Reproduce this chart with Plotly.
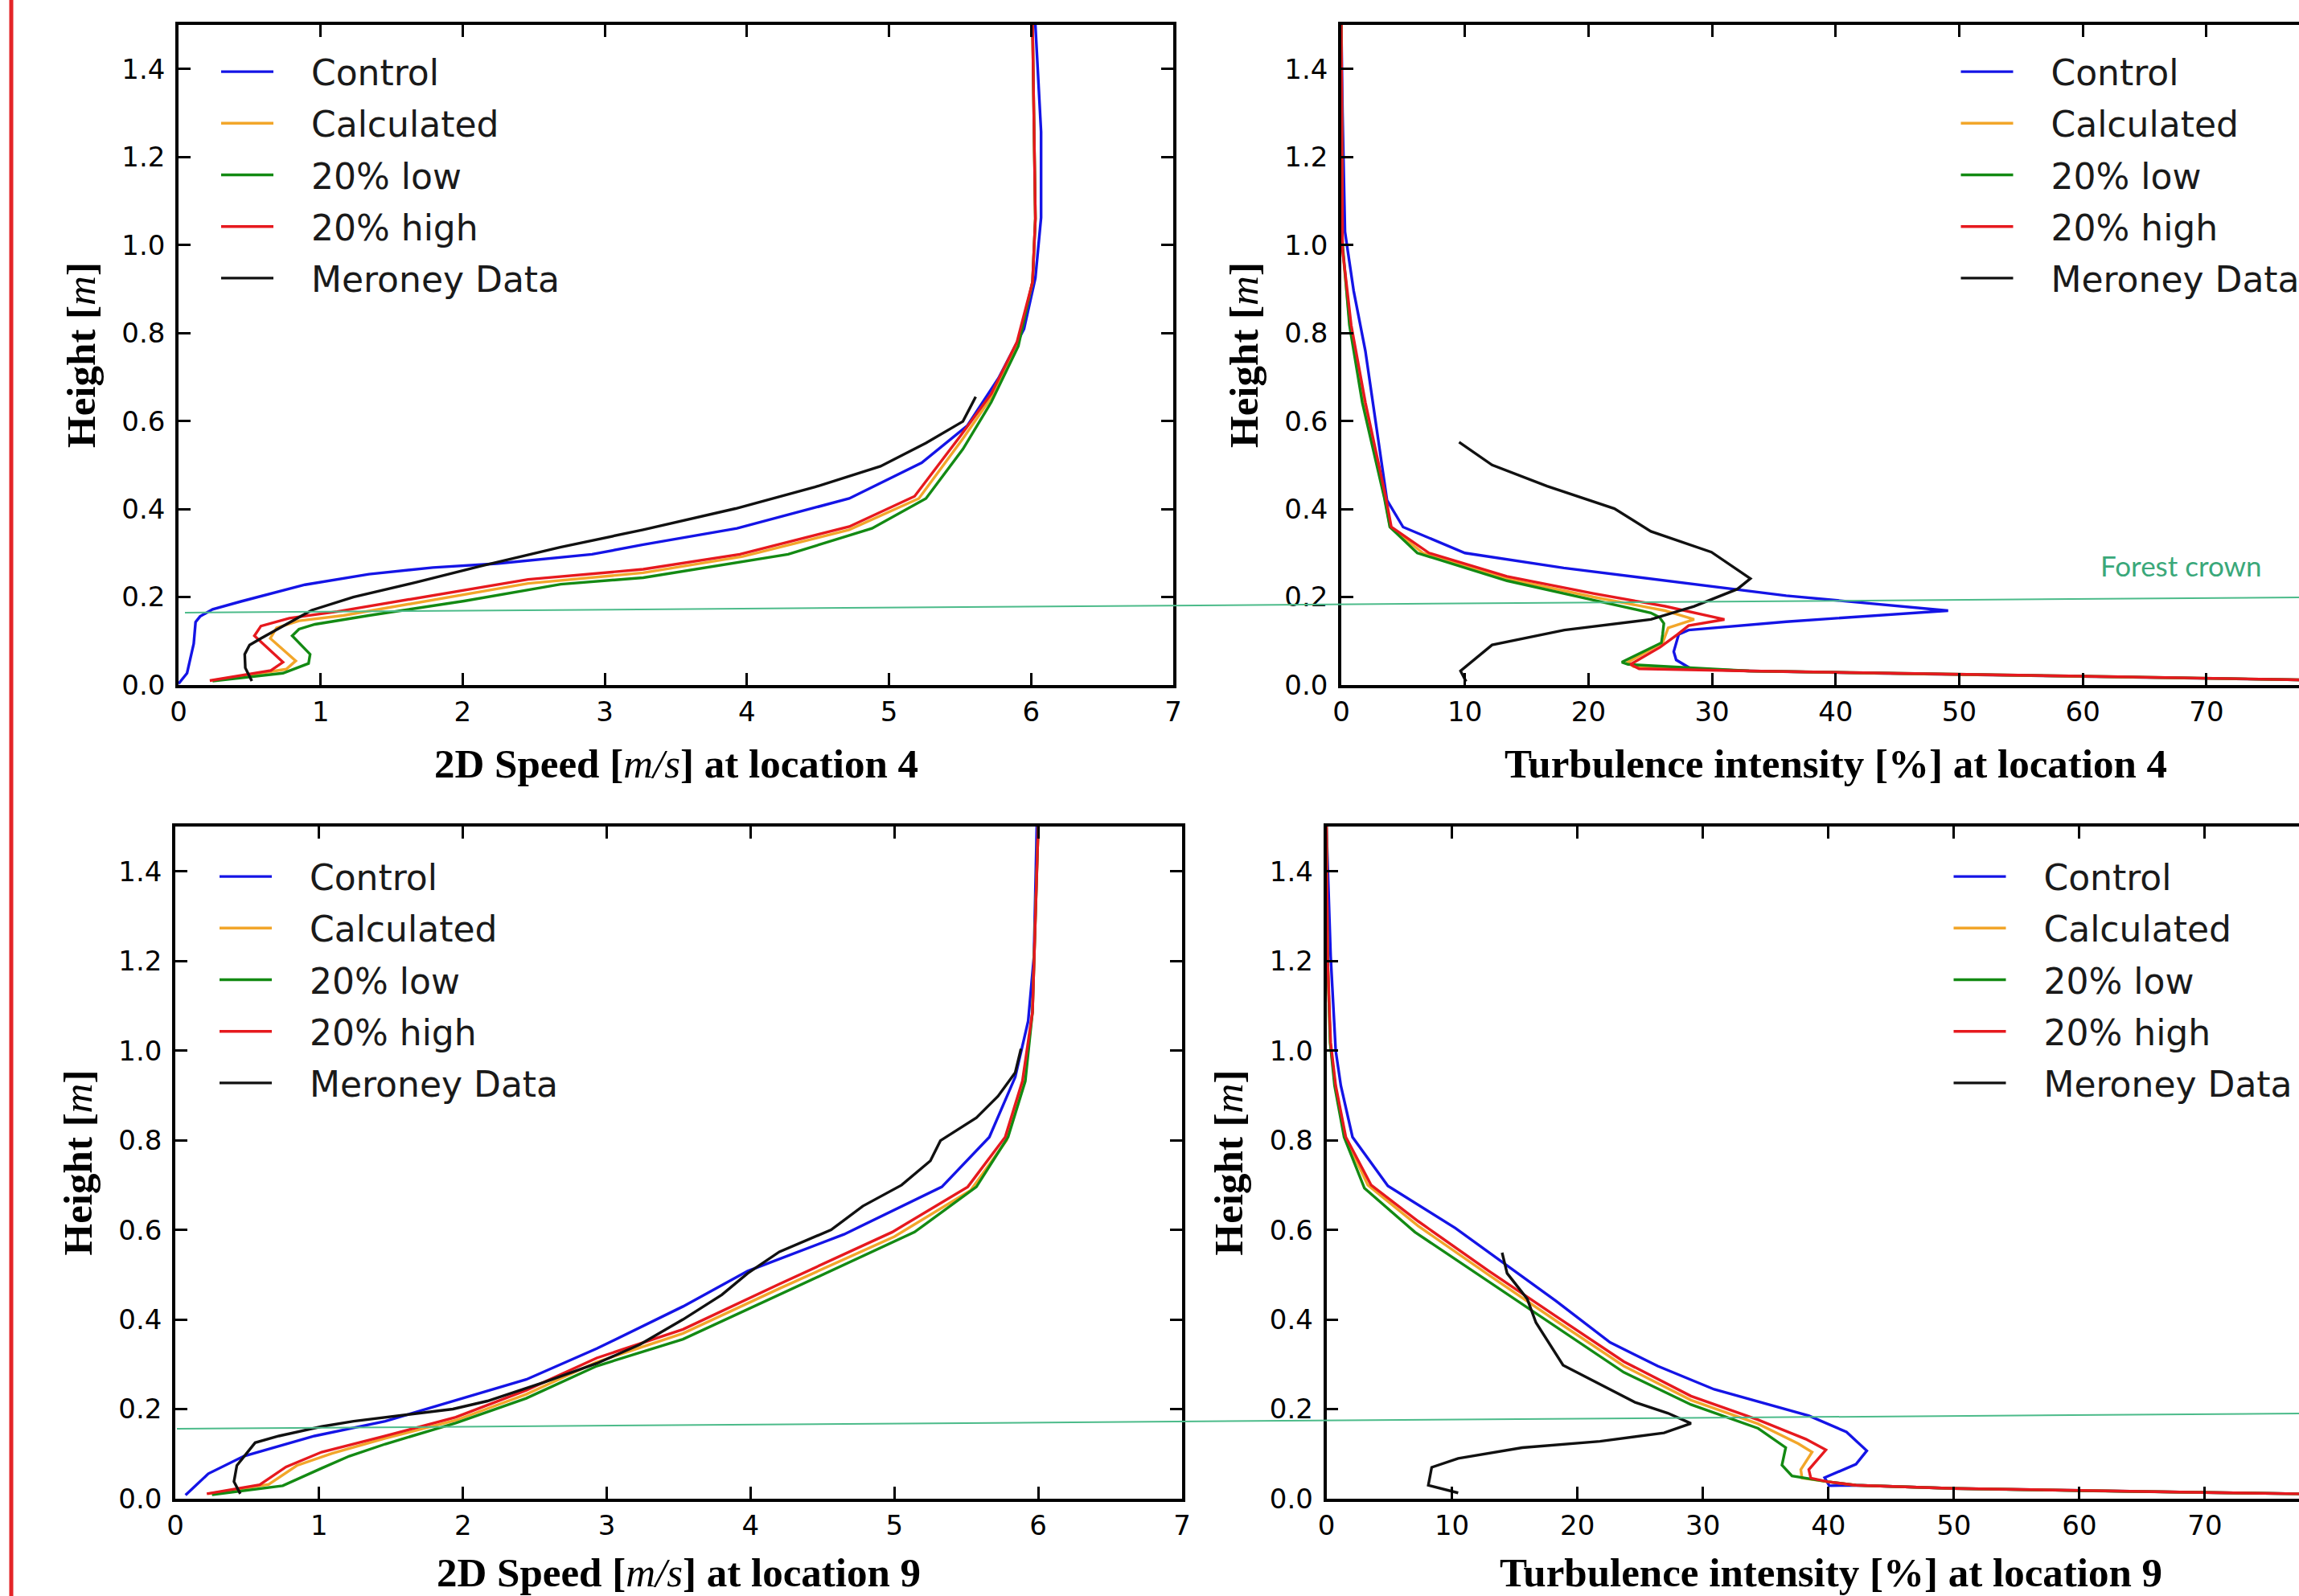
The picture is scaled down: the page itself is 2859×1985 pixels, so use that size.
import plotly.graph_objects as go

W, H = 2859, 1985

# ---------------- data ----------------
series_names = ["Control", "Calculated", "20% low", "20% high", "Meroney Data"]
series_colors = ["#1414e6", "#f2a62a", "#138a13", "#e6191e", "#111111"]

# Panel 1: 2D speed at location 4 (x = speed m/s, y = height m)
sp4_control_x = [0.0, 0.06, 0.107, 0.12, 0.152, 0.24, 0.44, 0.89, 1.34, 1.79, 2.24, 2.91, 3.27, 3.93, 4.72, 5.23, 5.55, 5.77, 5.95, 6.03, 6.07, 6.07, 6.03]
sp4_control_y = [0.003, 0.027, 0.094, 0.143, 0.156, 0.172, 0.19, 0.228, 0.252, 0.267, 0.276, 0.297, 0.319, 0.356, 0.424, 0.505, 0.589, 0.697, 0.809, 0.925, 1.062, 1.257, 1.5]
sp4_calc_x = [0.24, 0.758, 0.825, 0.646, 0.69, 0.848, 1.16, 1.79, 2.46, 3.27, 3.97, 4.72, 5.21, 5.52, 5.73, 5.91, 6.01, 6.03, 6.02, 6.01]
sp4_calc_y = [0.010, 0.036, 0.055, 0.106, 0.13, 0.146, 0.158, 0.194, 0.231, 0.255, 0.292, 0.353, 0.424, 0.560, 0.658, 0.779, 0.916, 1.06, 1.305, 1.5]
sp4_low_x = [0.24, 0.735, 0.915, 0.926, 0.80, 0.848, 0.96, 1.34, 2.01, 2.69, 3.27, 4.29, 4.88, 5.26, 5.52, 5.72, 5.91, 6.01, 6.03, 6.02, 6.01]
sp4_low_y = [0.009, 0.027, 0.049, 0.07, 0.112, 0.127, 0.138, 0.158, 0.191, 0.229, 0.244, 0.297, 0.356, 0.424, 0.536, 0.643, 0.770, 0.916, 1.06, 1.305, 1.5]
sp4_high_x = [0.22, 0.65, 0.735, 0.534, 0.58, 0.78, 1.117, 1.79, 2.46, 3.27, 3.95, 4.72, 5.18, 5.50, 5.72, 5.90, 6.01, 6.03, 6.02, 6.01]
sp4_high_y = [0.010, 0.033, 0.052, 0.112, 0.134, 0.152, 0.167, 0.203, 0.240, 0.263, 0.297, 0.360, 0.429, 0.565, 0.662, 0.779, 0.916, 1.06, 1.305, 1.5]
sp4_meroney_x = [0.516, 0.47, 0.466, 0.50, 0.58, 0.735, 0.937, 1.23, 1.68, 2.125, 2.686, 3.27, 3.92, 4.48, 4.94, 5.26, 5.52, 5.61]
sp4_meroney_y = [0.009, 0.039, 0.07, 0.091, 0.106, 0.134, 0.170, 0.200, 0.234, 0.270, 0.313, 0.353, 0.401, 0.450, 0.497, 0.550, 0.599, 0.655]

# Panel 2: turbulence intensity at location 4 (x = %, y = height m)
ti4_control_x = [0.0, 0.1, 0.3, 1.0, 1.95, 2.9, 3.7, 5.0, 10.0, 18.0, 25.0, 36.0, 49.1, 36.0, 28.1, 27.3, 26.9, 27.1, 28.3, 33.0, 45.0, 60.0, 77.5, 95.0]
ti4_control_y = [1.5, 1.3, 1.03, 0.896, 0.759, 0.574, 0.42, 0.359, 0.30, 0.266, 0.242, 0.203, 0.169, 0.144, 0.125, 0.115, 0.076, 0.057, 0.037, 0.032, 0.026, 0.020, 0.012, 0.004]
ti4_calc_x = [0.0, 0.05, 0.1, 0.7, 1.8, 3.5, 3.95, 6.6, 13.4, 20.4, 26.2, 28.55, 26.45, 26.0, 23.2, 23.65, 33.0, 45.0, 60.0, 77.5, 95.0]
ti4_calc_y = [1.5, 1.2, 0.99, 0.818, 0.642, 0.427, 0.359, 0.30, 0.242, 0.20, 0.169, 0.149, 0.130, 0.096, 0.052, 0.042, 0.032, 0.026, 0.020, 0.012, 0.004]
ti4_low_x = [0.0, 0.05, 0.08, 0.66, 1.7, 3.47, 3.93, 6.15, 13.4, 20.4, 25.05, 25.75, 26.1, 26.0, 25.9, 22.7, 23.2, 33.0, 45.0, 60.0, 77.5, 95.0]
ti4_low_y = [1.5, 1.2, 1.01, 0.818, 0.642, 0.427, 0.359, 0.30, 0.237, 0.193, 0.164, 0.154, 0.14, 0.115, 0.096, 0.052, 0.047, 0.032, 0.026, 0.020, 0.012, 0.004]
ti4_high_x = [0.0, 0.05, 0.1, 0.8, 1.95, 3.6, 4.05, 7.1, 13.4, 20.4, 26.2, 31.0, 28.1, 27.2, 25.8, 23.4, 24.1, 33.0, 45.0, 60.0, 77.5, 95.0]
ti4_high_y = [1.5, 1.2, 0.99, 0.818, 0.642, 0.427, 0.359, 0.30, 0.247, 0.208, 0.179, 0.149, 0.135, 0.115, 0.086, 0.047, 0.037, 0.032, 0.026, 0.020, 0.012, 0.004]
ti4_meroney_x = [9.53, 12.2, 16.65, 22.1, 25.05, 29.95, 33.1, 32.05, 28.55, 25.05, 18.05, 12.2, 9.65, 10.1]
ti4_meroney_y = [0.552, 0.50, 0.452, 0.401, 0.349, 0.302, 0.242, 0.218, 0.179, 0.149, 0.125, 0.091, 0.032, 0.008]

# Panel 3: 2D speed at location 9
sp9_control_x = [0.071, 0.23, 0.477, 0.968, 1.46, 2.0, 2.44, 2.93, 3.53, 3.98, 4.65, 5.33, 5.66, 5.84, 5.93, 5.97, 5.99]
sp9_control_y = [0.008, 0.056, 0.095, 0.14, 0.173, 0.224, 0.266, 0.335, 0.429, 0.508, 0.59, 0.696, 0.807, 0.941, 1.066, 1.21, 1.5]
sp9_calc_x = [0.23, 0.65, 0.845, 1.09, 1.46, 1.95, 2.44, 2.93, 3.53, 4.2, 5.0, 5.53, 5.78, 5.90, 5.96, 5.99, 6.0]
sp9_calc_y = [0.011, 0.032, 0.074, 0.101, 0.135, 0.175, 0.233, 0.305, 0.369, 0.469, 0.585, 0.688, 0.80, 0.932, 1.086, 1.40, 1.5]
sp9_low_x = [0.255, 0.747, 1.017, 1.21, 1.46, 1.95, 2.44, 2.93, 3.53, 4.2, 5.14, 5.57, 5.79, 5.91, 5.96, 5.99, 6.0]
sp9_low_y = [0.009, 0.029, 0.068, 0.095, 0.122, 0.169, 0.224, 0.296, 0.356, 0.455, 0.595, 0.696, 0.807, 0.932, 1.086, 1.40, 1.5]
sp9_high_x = [0.219, 0.587, 0.77, 1.017, 1.46, 1.95, 2.44, 2.93, 3.53, 4.2, 4.985, 5.51, 5.77, 5.89, 5.96, 5.99, 6.0]
sp9_high_y = [0.011, 0.031, 0.071, 0.104, 0.14, 0.182, 0.242, 0.314, 0.378, 0.479, 0.595, 0.696, 0.807, 0.932, 1.086, 1.40, 1.5]
sp9_meroney_x = [0.452, 0.408, 0.428, 0.555, 0.72, 1.017, 1.24, 1.705, 1.93, 2.17, 2.565, 2.93, 3.23, 3.53, 3.8, 3.98, 4.2, 4.56, 4.78, 5.05, 5.25, 5.32, 5.57, 5.72, 5.84, 5.88]
sp9_meroney_y = [0.011, 0.038, 0.074, 0.125, 0.14, 0.161, 0.173, 0.191, 0.20, 0.218, 0.26, 0.302, 0.344, 0.40, 0.455, 0.503, 0.551, 0.60, 0.653, 0.70, 0.754, 0.799, 0.85, 0.898, 0.951, 1.004]

# Panel 4: turbulence intensity at location 9
ti9_control_x = [0.0, 0.34, 0.74, 1.15, 2.08, 4.9, 10.27, 14.3, 18.3, 22.6, 26.4, 30.9, 35.8, 38.46, 41.44, 43.06, 42.2, 39.7, 40.07, 42.2, 50.0, 60.0, 70.0, 77.5, 95.0]
ti9_control_y = [1.5, 1.21, 1.0, 0.922, 0.807, 0.698, 0.604, 0.523, 0.441, 0.349, 0.296, 0.244, 0.205, 0.185, 0.149, 0.107, 0.077, 0.047, 0.029, 0.030, 0.023, 0.018, 0.014, 0.011, 0.004]
ti9_calc_x = [0.0, 0.1, 0.3, 0.7, 1.5, 3.3, 7.3, 12.95, 18.3, 23.7, 29.05, 34.4, 37.6, 38.7, 37.8, 37.9, 39.95, 42.2, 50.0, 60.0, 70.0, 77.5, 95.0]
ti9_calc_y = [1.5, 1.2, 1.018, 0.922, 0.807, 0.70, 0.609, 0.499, 0.397, 0.296, 0.22, 0.167, 0.123, 0.104, 0.065, 0.046, 0.038, 0.030, 0.023, 0.018, 0.014, 0.011, 0.004]
ti9_low_x = [0.0, 0.1, 0.3, 0.65, 1.41, 3.03, 7.05, 12.95, 18.3, 23.7, 29.05, 34.4, 36.6, 36.3, 37.1, 39.95, 42.2, 50.0, 60.0, 70.0, 77.5, 95.0]
ti9_low_y = [1.5, 1.2, 1.018, 0.922, 0.807, 0.693, 0.595, 0.484, 0.383, 0.282, 0.21, 0.157, 0.114, 0.075, 0.051, 0.038, 0.030, 0.023, 0.018, 0.014, 0.011, 0.004]
ti9_high_x = [0.0, 0.1, 0.34, 0.74, 1.55, 3.56, 7.32, 12.95, 18.3, 23.7, 29.05, 34.4, 38.2, 39.8, 38.44, 38.6, 39.95, 42.2, 50.0, 60.0, 70.0, 77.5, 95.0]
ti9_high_y = [1.5, 1.2, 1.018, 0.922, 0.807, 0.70, 0.619, 0.508, 0.407, 0.306, 0.229, 0.176, 0.133, 0.109, 0.065, 0.046, 0.038, 0.030, 0.023, 0.018, 0.014, 0.011, 0.004]
ti9_meroney_x = [14.0, 14.4, 16.0, 16.7, 18.86, 22.3, 24.6, 27.2, 29.05, 26.9, 21.8, 15.6, 10.5, 8.39, 8.12, 10.5]
ti9_meroney_y = [0.549, 0.503, 0.446, 0.393, 0.298, 0.248, 0.215, 0.191, 0.168, 0.147, 0.128, 0.114, 0.09, 0.07, 0.03, 0.013]

speed_ticks = [0, 1, 2, 3, 4, 5, 6, 7]
ti_ticks = [0, 10, 20, 30, 40, 50, 60, 70, 80]
height_ticks = [0.0, 0.2, 0.4, 0.6, 0.8, 1.0, 1.2, 1.4]

x_titles = [
    "<b>2D Speed [</b><i>m/s</i><b>] at location 4</b>",
    "<b>Turbulence intensity [%] at location 4</b>",
    "<b>2D Speed [</b><i>m/s</i><b>] at location 9</b>",
    "<b>Turbulence intensity [%] at location 9</b>",
]
y_title = "<b>Height [</b><i>m</i><b>]</b>"

panels = [
    [(sp4_control_x, sp4_control_y), (sp4_calc_x, sp4_calc_y), (sp4_low_x, sp4_low_y), (sp4_high_x, sp4_high_y), (sp4_meroney_x, sp4_meroney_y)],
    [(ti4_control_x, ti4_control_y), (ti4_calc_x, ti4_calc_y), (ti4_low_x, ti4_low_y), (ti4_high_x, ti4_high_y), (ti4_meroney_x, ti4_meroney_y)],
    [(sp9_control_x, sp9_control_y), (sp9_calc_x, sp9_calc_y), (sp9_low_x, sp9_low_y), (sp9_high_x, sp9_high_y), (sp9_meroney_x, sp9_meroney_y)],
    [(ti9_control_x, ti9_control_y), (ti9_calc_x, ti9_calc_y), (ti9_low_x, ti9_low_y), (ti9_high_x, ti9_high_y), (ti9_meroney_x, ti9_meroney_y)],
]

# ---------------- layout geometry (pixels) ----------------
def px_x(v):
    return v / W

def px_y(v):
    return 1 - v / H

x_domains = [(222, 1459), (1668, W), (218, 1470), (1649.5, W)]
y_domains = [(31, 852), (31, 852), (1028, 1864), (1028, 1864)]
x_ranges = [[0, 7], [0, 77.49], [0, 7], [0, 77.5]]
legend_pos = [(270, 54), (2433.5, 54), (268, 1055), (2424.5, 1055)]
# x-title centres: (x within the axis domain, y in pixels)
x_title_pos = [(0.5, 950), ((2283 - 1668) / (W - 1668), 950), (0.5, 1956), ((2277 - 1649.5) / (W - 1649.5), 1956)]

fig = go.Figure()
legend_ids = ["legend", "legend2", "legend3", "legend4"]
NB = "\u00a0\u00a0\u00a0"

for p in range(4):
    sfx = "" if p == 0 else str(p + 1)
    for s, (xs, ys) in enumerate(panels[p]):
        fig.add_trace(go.Scatter(
            x=xs, y=ys, mode="lines", name=NB + series_names[s],
            line=dict(color=series_colors[s], width=3.4),
            xaxis="x" + sfx, yaxis="y" + sfx,
            legend=legend_ids[p], legendgroup="p%d_%d" % (p, s),
            hoverinfo="skip",
        ))

tick_font = dict(family="DejaVu Sans", size=34, color="black")
title_font = dict(family="Liberation Serif", size=51, color="black")

layout = dict(
    width=W, height=H,
    margin=dict(l=0, r=0, t=0, b=0, autoexpand=False),
    paper_bgcolor="white", plot_bgcolor="white",
    showlegend=True,
)

annotations = []
for p in range(4):
    sfx = "" if p == 0 else str(p + 1)
    right_panel = p in (1, 3)
    xd = x_domains[p]
    yd = y_domains[p]
    layout["xaxis" + sfx] = dict(
        domain=[px_x(xd[0]), px_x(xd[1])],
        range=x_ranges[p],
        anchor="y" + sfx,
        tickvals=ti_ticks if right_panel else speed_ticks,
        ticks="inside", ticklen=15, tickwidth=2.5, tickcolor="black",
        showline=True, linecolor="black", linewidth=3.5, mirror="allticks",
        showgrid=False, zeroline=False,
        tickfont=tick_font, ticklabelstandoff=0,
    )
    layout["yaxis" + sfx] = dict(
        domain=[px_y(yd[1]), px_y(yd[0])],
        range=[0, 1.5],
        anchor="x" + sfx,
        tickvals=height_ticks, tickformat=".1f",
        ticks="inside", ticklen=15, tickwidth=2.5, tickcolor="black",
        showline=True, linecolor="black", linewidth=3.5,
        mirror=False if right_panel else "allticks",
        showgrid=False, zeroline=False,
        tickfont=tick_font, ticklabelstandoff=6,
        title=dict(text=y_title, font=title_font, standoff=18),
    )
    tx, ty = x_title_pos[p]
    annotations.append(dict(
        text=x_titles[p], xref="x%s domain" % sfx, yref="paper",
        x=tx, y=px_y(ty), xanchor="center", yanchor="middle",
        showarrow=False, font=title_font,
    ))
    lx, ly = legend_pos[p]
    layout[legend_ids[p]] = dict(
        x=px_x(lx), y=px_y(ly), xanchor="left", yanchor="top",
        bgcolor="rgba(0,0,0,0)", borderwidth=0,
        font=dict(family="DejaVu Sans", size=44, color="#1a1a1a"),
        itemwidth=65, tracegroupgap=4, traceorder="grouped",
    )

annotations.append(dict(
    text="Forest crown", xref="paper", yref="paper",
    x=px_x(2712), y=px_y(703), showarrow=False,
    xanchor="center", yanchor="middle",
    font=dict(family="Lato", size=35, color="#3aa87a"),
))
layout["annotations"] = annotations

fig.update_layout(**layout)

# forest crown reference lines (spanning across panels) and left red border
forest_color = "#4cbb8a"
fig.add_shape(type="line", xref="paper", yref="paper",
              x0=px_x(230), y0=px_y(762), x1=1.0, y1=px_y(743),
              line=dict(color=forest_color, width=2))
fig.add_shape(type="line", xref="paper", yref="paper",
              x0=px_x(220), y0=px_y(1777), x1=1.0, y1=px_y(1758),
              line=dict(color=forest_color, width=2))
fig.add_shape(type="line", xref="paper", yref="paper",
              x0=px_x(14), y0=0, x1=px_x(14), y1=1,
              line=dict(color="#e42528", width=5))

fig.write_html("out.html", config={"displayModeBar": False},
               post_script="document.body.style.margin='0';")
